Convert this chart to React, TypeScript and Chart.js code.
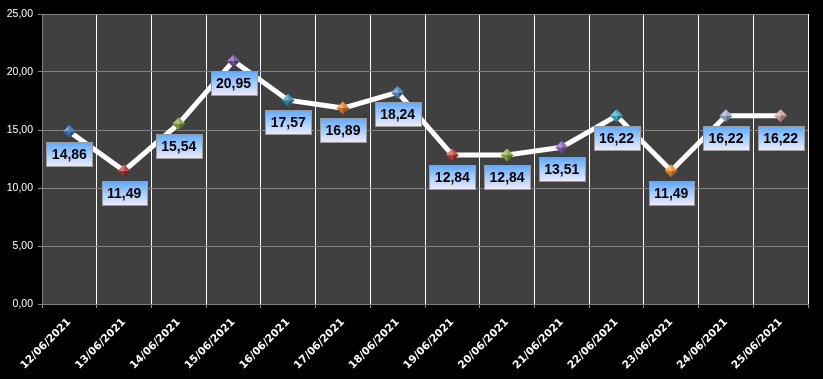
import React, { useEffect, useRef } from "react";
import { Chart, registerables } from "chart.js";

Chart.register(...registerables);

const categories = [
  "12/06/2021", "13/06/2021", "14/06/2021", "15/06/2021", "16/06/2021", "17/06/2021", "18/06/2021",
  "19/06/2021", "20/06/2021", "21/06/2021", "22/06/2021", "23/06/2021", "24/06/2021", "25/06/2021",
];
const values = [14.86, 11.49, 15.54, 20.95, 17.57, 16.89, 18.24, 12.84, 12.84, 13.51, 16.22, 11.49, 16.22, 16.22];
const markerColors = [
  "#3f6fb0", "#a83434", "#7f9f38", "#6a4c9c", "#2a8cab", "#e57b22", "#4a80c8",
  "#c83c3c", "#8aa840", "#7c5cae", "#33abcc", "#f28a22", "#97a8c8", "#d9a3a3",
];
const yMin = 0;
const yMax = 25;
const yStep = 5;

const fmt = (v: number) => v.toFixed(2).replace(".", ",");

function shade(hex: string, f: number) {
  const n = parseInt(hex.slice(1), 16);
  let r = (n >> 16) & 255, g = (n >> 8) & 255, b = n & 255;
  if (f >= 0) {
    r = r + (255 - r) * f; g = g + (255 - g) * f; b = b + (255 - b) * f;
  } else {
    r = r * (1 + f); g = g * (1 + f); b = b * (1 + f);
  }
  return `rgb(${Math.round(r)},${Math.round(g)},${Math.round(b)})`;
}

const bgPlugin = {
  id: "bg",
  beforeDraw(chart: any) {
    const { ctx, chartArea: a } = chart;
    ctx.save();
    ctx.fillStyle = "#000000";
    ctx.fillRect(0, 0, chart.width, chart.height);
    ctx.fillStyle = "#404040";
    ctx.fillRect(a.left, a.top, a.right - a.left, a.bottom - a.top);
    ctx.restore();
  },
};

const markerLabelPlugin = {
  id: "markersLabels",
  afterDatasetsDraw(chart: any) {
    const { ctx } = chart;
    const meta = chart.getDatasetMeta(0);
    const s = 6.5;
    ctx.save();
    meta.data.forEach((pt: any, i: number) => {
      const x = pt.x, y = pt.y;
      const c = markerColors[i % markerColors.length];
      const faces: [number, number, number, number, string][] = [
        [x - s, y, x, y - s, shade(c, 0.35)],
        [x, y - s, x + s, y, shade(c, 0.1)],
        [x + s, y, x, y + s, shade(c, -0.3)],
        [x, y + s, x - s, y, shade(c, -0.1)],
      ];
      faces.forEach(([x1, y1, x2, y2, col]) => {
        ctx.beginPath();
        ctx.moveTo(x, y);
        ctx.lineTo(x1, y1);
        ctx.lineTo(x2, y2);
        ctx.closePath();
        ctx.fillStyle = col;
        ctx.fill();
      });
    });
    ctx.font = "bold 14px 'Liberation Sans', Arial, sans-serif";
    ctx.textAlign = "center";
    ctx.textBaseline = "middle";
    meta.data.forEach((pt: any, i: number) => {
      const txt = fmt(values[i]);
      const w = Math.round(ctx.measureText(txt).width + 11);
      const h = 24;
      const left = Math.round(pt.x - w / 2) + 0.5;
      const top = Math.round(pt.y + 10) + 0.5;
      const g = ctx.createLinearGradient(0, top, 0, top + h);
      g.addColorStop(0, "#5ea9ff");
      g.addColorStop(0.5, "#a6cdff");
      g.addColorStop(1, "#f1e9f7");
      ctx.fillStyle = g;
      ctx.fillRect(left, top, w, h);
      ctx.strokeStyle = "#9a9a9a";
      ctx.lineWidth = 1;
      ctx.strokeRect(left, top, w, h);
      ctx.fillStyle = "#000000";
      ctx.fillText(txt, pt.x, top + h / 2 + 1);
    });
    ctx.restore();
  },
};

export default function App() {
  const ref = useRef<HTMLCanvasElement | null>(null);
  useEffect(() => {
    document.body.style.margin = "0";
    document.body.style.background = "#000";
    if (!ref.current) return;
    const chart = new Chart(ref.current, {
      type: "line",
      data: {
        labels: categories,
        datasets: [
          {
            data: values,
            borderColor: "#ffffff",
            borderWidth: 5,
            pointRadius: 0,
            tension: 0,
            fill: false,
          },
        ],
      },
      options: {
        animation: false,
        responsive: false,
        layout: { padding: { top: 14, right: 15, left: 0, bottom: 0 } },
        plugins: { legend: { display: false }, tooltip: { enabled: false } },
        scales: {
          x: {
            offset: true,
            grid: {
              offset: true,
              color: (c: any) => (c.index === 0 ? "#808080" : "#ffffff"),
              tickColor: "#909090",
              tickLength: 4,
              lineWidth: 1,
            },
            border: { color: "#808080" },
            ticks: {
              color: "#ffffff",
              font: { family: "'DejaVu Sans', Verdana, sans-serif", size: 10.5, weight: "bold" },
              minRotation: 45,
              maxRotation: 45,
              autoSkip: false,
              padding: 8,
            },
            afterFit: (s: any) => { s.height = 75; },
          },
          y: {
            min: yMin,
            max: yMax,
            grid: { color: "#808080", tickColor: "#808080", tickLength: 4 },
            border: { color: "#808080" },
            ticks: {
              stepSize: yStep,
              color: "#ffffff",
              font: { family: "'Liberation Sans', Arial, sans-serif", size: 10.5 },
              padding: 5,
              callback: (v: any) => fmt(Number(v)),
            },
            afterFit: (s: any) => { s.width = 42; },
          },
        },
      },
      plugins: [bgPlugin, markerLabelPlugin],
    } as any);
    return () => chart.destroy();
  }, []);
  return (
    <div style={{ width: 823, height: 379, background: "#000" }}>
      <canvas ref={ref} width={823} height={379} style={{ display: "block" }} />
    </div>
  );
}
